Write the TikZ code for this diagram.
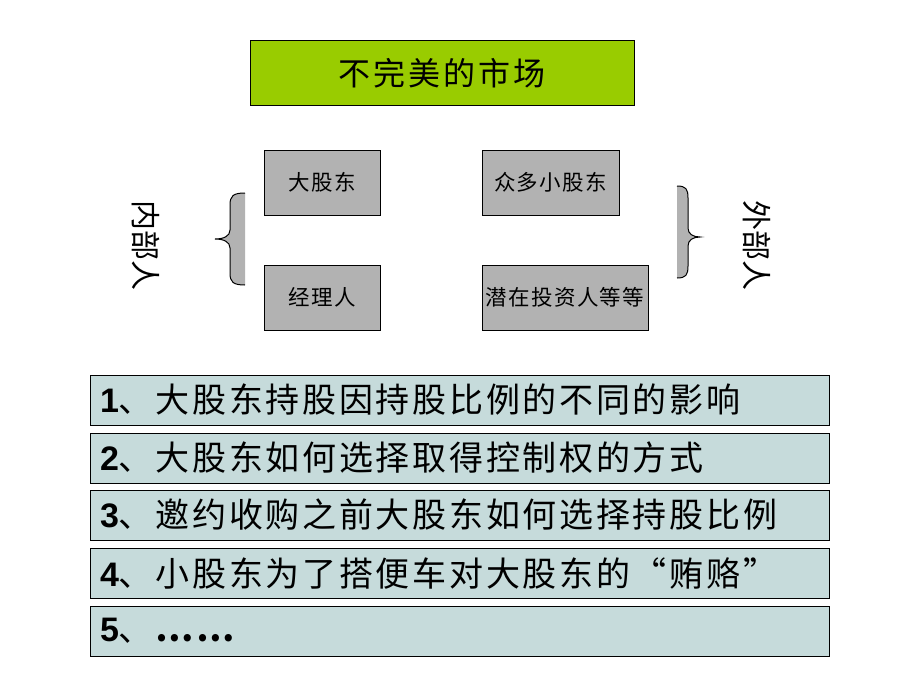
\documentclass[tikz,border=0pt]{standalone}
\usepackage{fontspec}
\setmainfont{Noto Sans CJK SC}
\newfontfamily\numfont{Liberation Sans}
\usepackage{tikz}
\usetikzlibrary{positioning, calc}

\definecolor{titlegreen}{HTML}{99CC00}
\definecolor{boxgray}{HTML}{B2B2B2}
\definecolor{rowblue}{HTML}{C6DBDB}

\tikzset{
    titlebox/.style={draw, fill=titlegreen, line width=1pt, minimum width=384pt, minimum height=65pt,
                     font=\fontsize{32}{32}\selectfont\addfontfeature{LetterSpace=9}},
    partybox/.style={draw, fill=boxgray, line width=1pt, minimum height=65pt, inner sep=1pt,
                     font=\fontsize{21.5}{21.5}\selectfont\addfontfeature{LetterSpace=6}},
    rowbox/.style={draw, fill=rowblue, line width=1pt, minimum height=50pt, inner xsep=10pt,
                   text width=719pt, align=left,
                   font=\fontsize{34}{34}\selectfont\addfontfeature{LetterSpace=8}},
    sidelabel/.style={font=\fontsize{30}{30}\selectfont},
    bracefill/.style={fill=boxgray},
    braceline/.style={draw, line width=1pt}
}
\newcommand{\rownum}[1]{{\numfont\bfseries #1}}

\begin{document}
\begin{tikzpicture}[x=1pt,y=-1pt]
    \useasboundingbox[fill=white] (0,0) rectangle (920,690);

    % title
    \node[titlebox] (market) at (442,73.5) {不完美的市场};

    % insiders and outsiders
    \node[partybox, minimum width=116pt] (bigholder) at (322,182.5) {大股东};
    \node[partybox, minimum width=116pt] (manager) at (322,297.5) {经理人};
    \node[partybox, minimum width=137pt] (smallholders) at (550.5,182.5) {众多小股东};
    \node[partybox, minimum width=166pt] (investors) at (565,297.5) {潜在投资人等等};

    \node[sidelabel, rotate=-90] (insider) at (146,245) {内部人};
    \node[sidelabel, rotate=-90] (outsider) at (757,245) {外部人};

    % left brace
    \fill[bracefill] (245,193) .. controls (233,193) and (230,196) .. (230,205) -- (230,230)
        .. controls (230,236) and (224,239) .. (215,239)
        .. controls (224,239) and (230,242) .. (230,248) -- (230,273)
        .. controls (230,282) and (233,285) .. (245,285) -- cycle;
    \draw[braceline] (245,193) .. controls (233,193) and (230,196) .. (230,205) -- (230,230)
        .. controls (230,236) and (224,239) .. (215,239)
        .. controls (224,239) and (230,242) .. (230,248) -- (230,273)
        .. controls (230,282) and (233,285) .. (245,285);

    % right brace
    \fill[bracefill] (677,186) .. controls (686,186) and (688,189) .. (688,198) -- (688,228)
        .. controls (688,234) and (693,237) .. (700,237)
        .. controls (693,237) and (688,240) .. (688,246) -- (688,266)
        .. controls (688,275) and (686,278) .. (677,278) -- cycle;
    \draw[braceline] (677,186) .. controls (686,186) and (688,189) .. (688,198) -- (688,228)
        .. controls (688,234) and (693,237) .. (700,237)
        .. controls (693,237) and (688,240) .. (688,246) -- (688,266)
        .. controls (688,275) and (686,278) .. (677,278);

    % questions
    \node[rowbox] (q1) at (459.5,400) {\rownum{1}、大股东持股因持股比例的不同的影响};
    \node[rowbox] (q2) at (459.5,458) {\rownum{2}、大股东如何选择取得控制权的方式};
    \node[rowbox] (q3) at (459.5,515) {\rownum{3}、邀约收购之前大股东如何选择持股比例};
    \node[rowbox] (q4) at (459.5,573) {\rownum{4}、小股东为了搭便车对大股东的“贿赂”};
    \node[rowbox] (q5) at (459.5,631) {\rownum{5}、\textbf{……}};
\end{tikzpicture}
\end{document}
